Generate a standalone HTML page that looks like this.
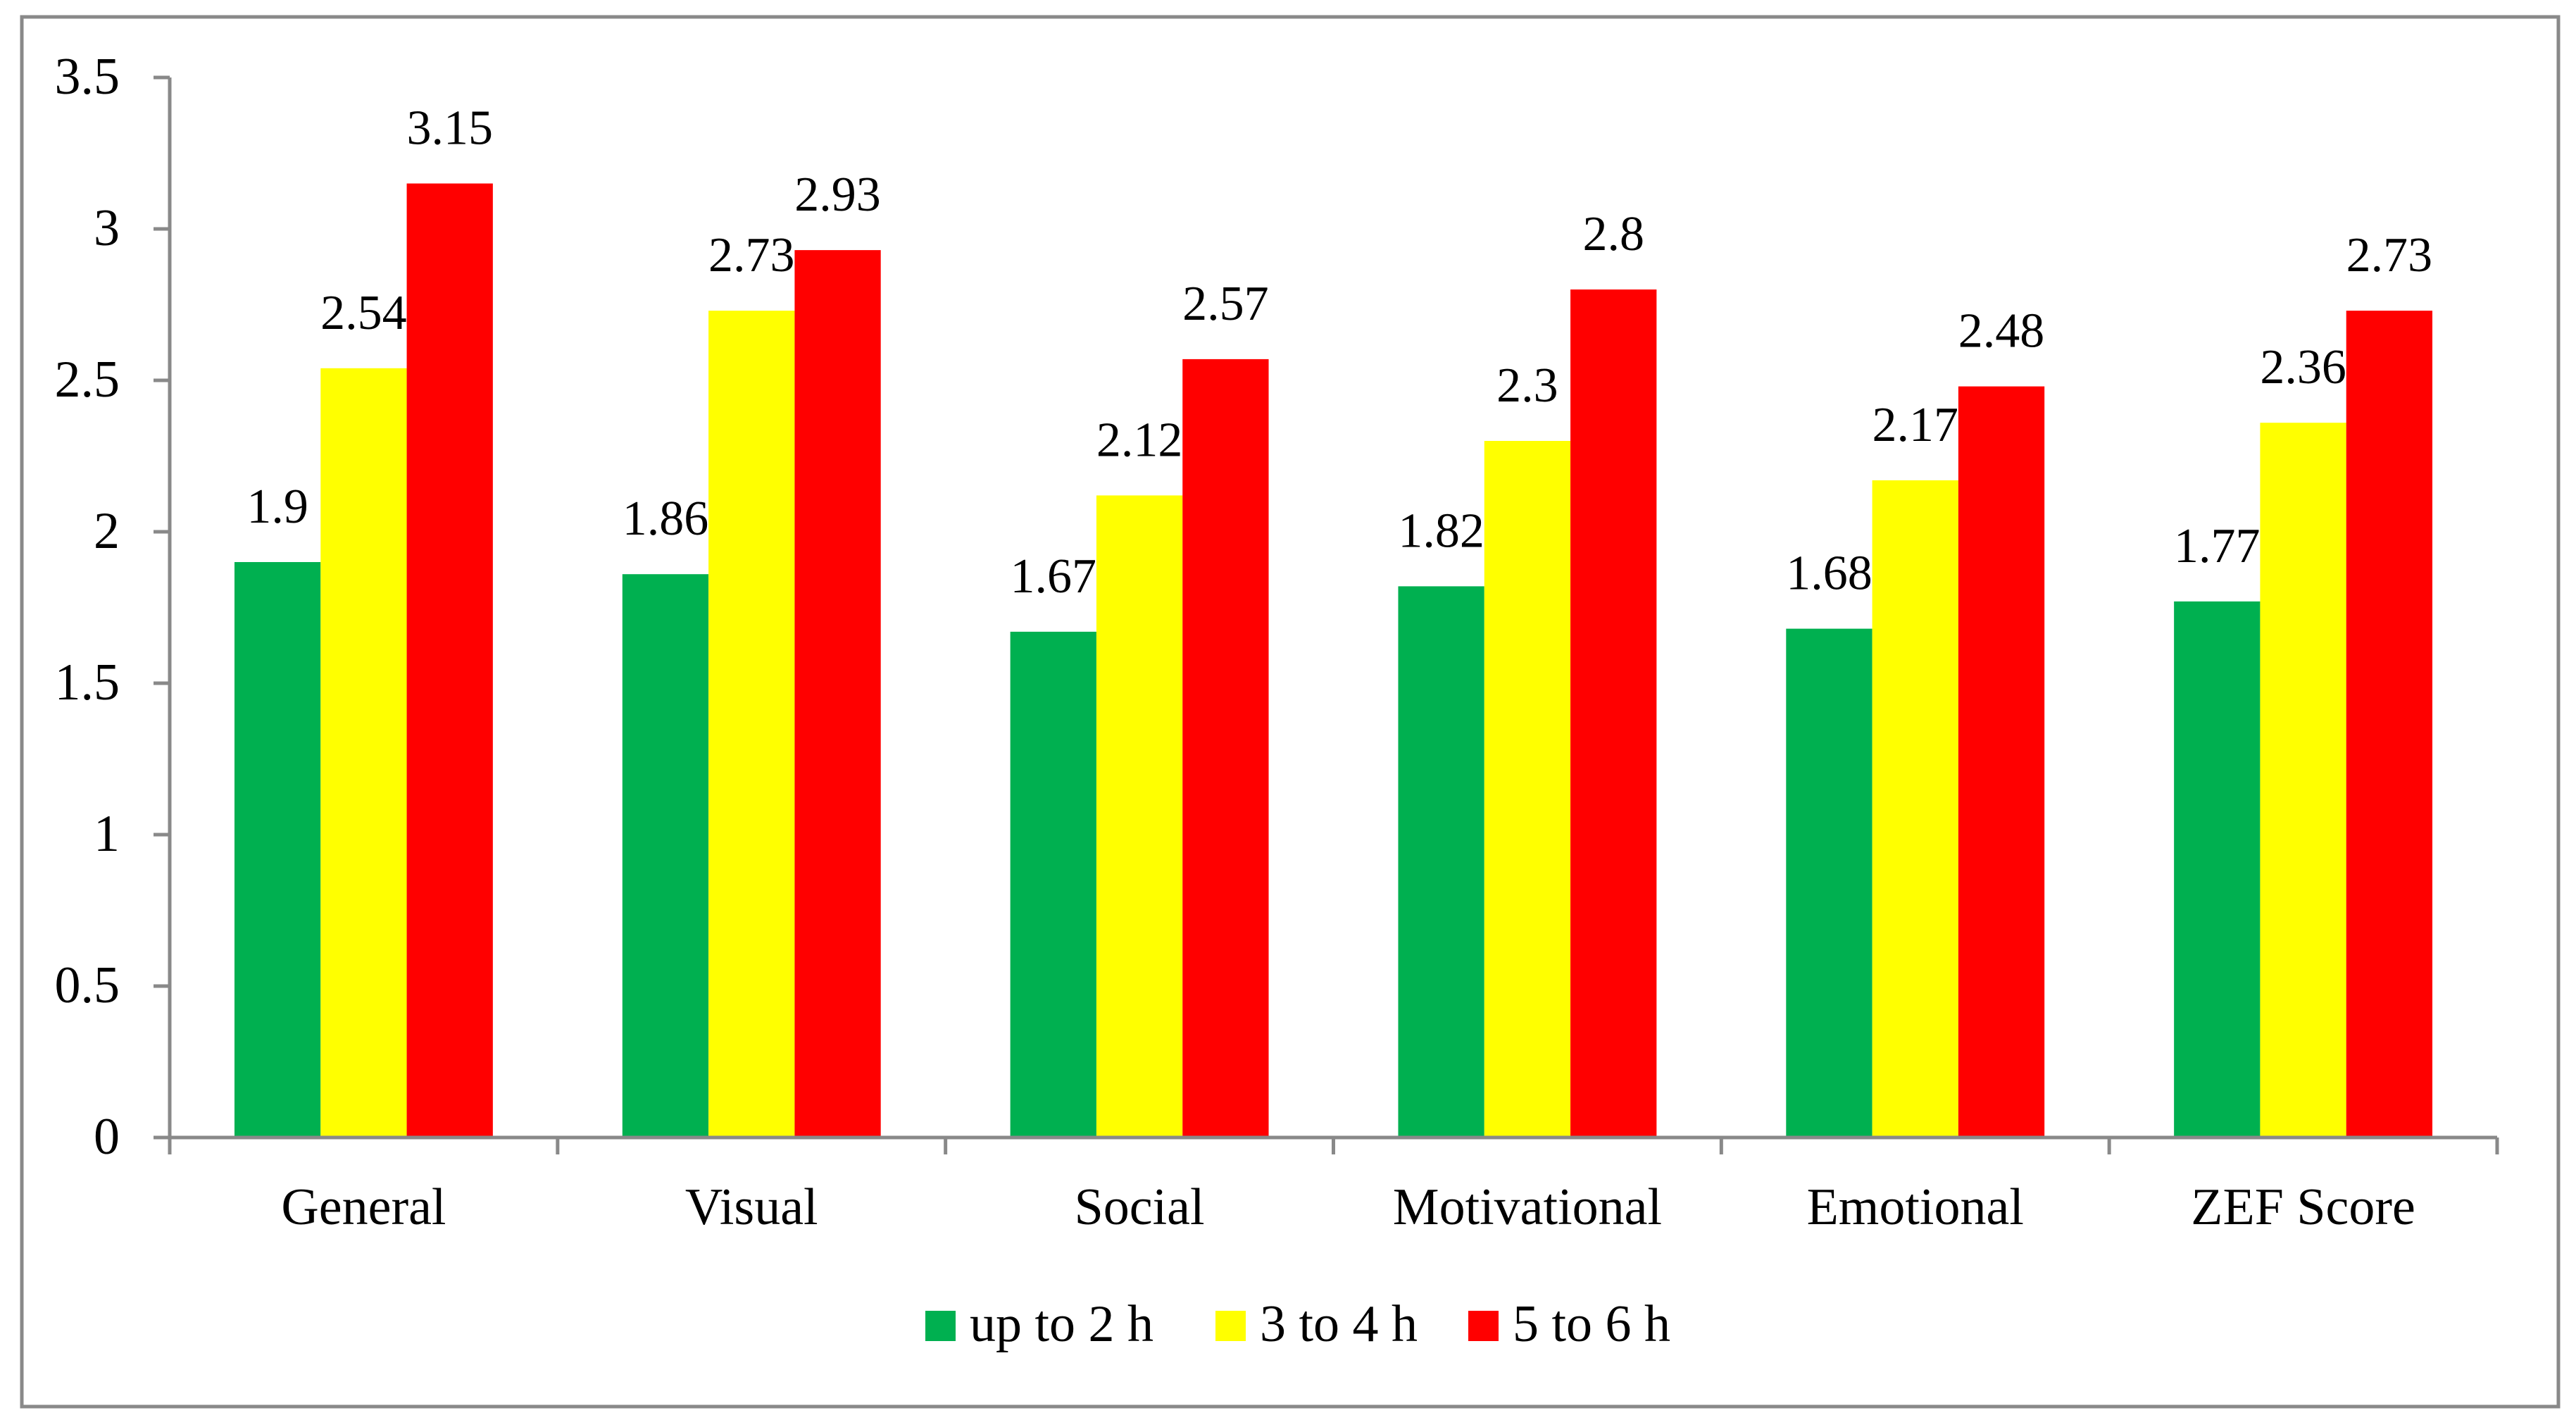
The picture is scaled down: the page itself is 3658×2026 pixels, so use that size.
<!DOCTYPE html>
<html><head><meta charset="utf-8"><style>
html,body{margin:0;padding:0;background:#fff;}
svg{display:block;}
text{font-family:"Liberation Serif",serif;fill:#000;}
</style></head><body>
<svg id="chart" width="3658" height="2026" xmlns="http://www.w3.org/2000/svg">
<rect x="31" y="24" width="3602" height="1973" fill="#fff" stroke="#898989" stroke-width="5"/>
<g id="grid"></g><g id="bars"></g><g id="labels"></g><g id="axes"></g><g id="legend"></g>
</svg>
<script>
const categories = ["General","Visual","Social","Motivational","Emotional","ZEF Score"];
const seriesNames = ["up to 2 h","3 to 4 h","5 to 6 h"];
const upTo2h = [1.9,1.86,1.67,1.82,1.68,1.77];
const h3to4 = [2.54,2.73,2.12,2.3,2.17,2.36];
const h5to6 = [3.15,2.93,2.57,2.8,2.48,2.73];
const yTicks = [0,0.5,1,1.5,2,2.5,3,3.5];
const yTickLabels = ["0","0.5","1","1.5","2","2.5","3","3.5"];

const NS="http://www.w3.org/2000/svg";
const colors=["#00B050","#FFFF00","#FF0000"];
const series=[upTo2h,h3to4,h5to6];
const X0=241,X1=3546,Y0=1615,Ytop=110,yMax=3.5;
const catW=(X1-X0)/categories.length;
const barW=122.3;
function yPos(v){return Y0-(v/yMax)*(Y0-Ytop);}
function xCat(i){return X0+catW*(i+0.5);}
function mk(tag,attrs,parent){const e=document.createElementNS(NS,tag);for(const k in attrs)e.setAttribute(k,attrs[k]);parent.appendChild(e);return e;}
const gBars=document.getElementById('bars'),gLab=document.getElementById('labels'),gAx=document.getElementById('axes'),gLeg=document.getElementById('legend');

series.forEach((s,si)=>{
  s.forEach((v,ci)=>{
    const x=xCat(ci)-1.5*barW+si*barW;
    const r=mk('rect',{x:x,y:yPos(v),width:barW,height:Y0-yPos(v),fill:colors[si]},gBars);
    
    
    const t=mk('text',{x:x+barW/2,y:yPos(v)-56,'text-anchor':'middle','font-size':'70'},gLab);
    t.textContent=String(v);
    
    
  });
});

const ya=mk('line',{x1:X0,y1:Ytop,x2:X0,y2:Y0,stroke:'#898989','stroke-width':5},gAx);


const xa=mk('line',{x1:X0-23,y1:Y0,x2:X1,y2:Y0,stroke:'#898989','stroke-width':5},gAx);


yTicks.forEach((v,i)=>{
  mk('line',{x1:X0-23,y1:yPos(v),x2:X0,y2:yPos(v),stroke:'#898989','stroke-width':5},gAx);
  const t=mk('text',{x:170,y:yPos(v)+23,'text-anchor':'end','font-size':'74'},gAx);
  t.textContent=yTickLabels[i];
  
  
});
for(let i=0;i<=categories.length;i++){
  mk('line',{x1:X0+catW*i,y1:Y0,x2:X0+catW*i,y2:1639,stroke:'#898989','stroke-width':5},gAx);
}
categories.forEach((c,i)=>{
  const t=mk('text',{x:xCat(i),y:1738,'text-anchor':'middle','font-size':'74'},gAx);
  t.textContent=c;
  
  
});
const legX=[1314,1726,2085];
seriesNames.forEach((n,i)=>{
  const g=mk('g',{},gLeg);
  
  
  mk('rect',{x:legX[i],y:1861,width:43,height:43,fill:colors[i]},g);
  const t=mk('text',{x:legX[i]+63,y:1904,'font-size':'74'},g);
  t.textContent=n;
});
</script>
</body></html>
